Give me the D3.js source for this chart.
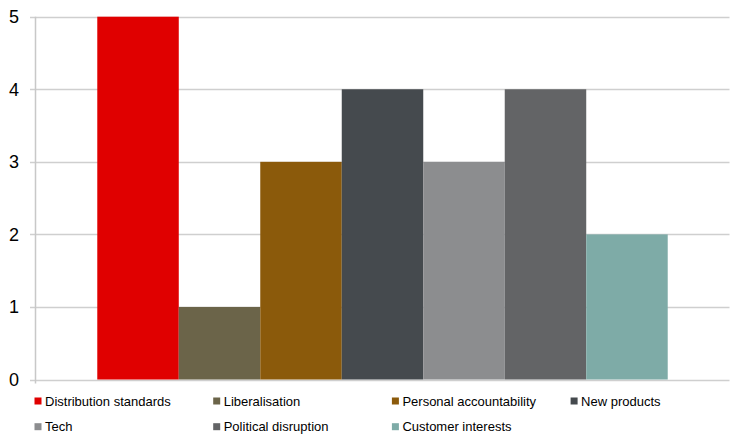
<!DOCTYPE html>
<html>
<head>
<meta charset="utf-8">
<script src="https://cdn.jsdelivr.net/npm/d3@7"></script>
<style>
  html, body { margin: 0; padding: 0; background: #fff; }
  svg { display: block; }
</style>
</head>
<body>
<svg id="chart" width="740" height="446"></svg>
<script>
const seriesNames = ["Distribution standards", "Liberalisation", "Personal accountability", "New products", "Tech", "Political disruption", "Customer interests"];
const seriesValues = [5, 1, 3, 4, 3, 4, 2];
const seriesColors = ["#e00000", "#6b6449", "#8b5a0b", "#454a4e", "#8c8d8f", "#636466", "#7eaba7"];
const yTicks = [0, 1, 2, 3, 4, 5];

const svg = d3.select("#chart");
const plotLeft = 35.5, plotRight = 729.5, plotTop = 16.7, plotBottom = 379.5;

const y = d3.scaleLinear().domain([0, 5]).range([plotBottom, plotTop]);
// single category band, with series bars inside
const xOuter = d3.scaleBand().domain(["all"]).range([plotLeft, plotRight]).paddingInner(0).paddingOuter(0.1083);
const xInner = d3.scaleBand().domain(seriesNames).range([0, xOuter.bandwidth()]).padding(0);

// gridlines
svg.append("g").selectAll("line").data(yTicks).join("line")
  .attr("x1", 30).attr("x2", plotRight)
  .attr("y1", d => Math.round(y(d)) + 0.5).attr("y2", d => Math.round(y(d)) + 0.5)
  .attr("stroke", "#cfcfcf").attr("stroke-width", 1.5);

// bars
svg.append("g").selectAll("rect").data(seriesNames).join("rect")
  .attr("x", (d) => xOuter("all") + xInner(d))
  .attr("width", xInner.bandwidth())
  .attr("y", (d, i) => y(seriesValues[i]))
  .attr("height", (d, i) => y(0) - y(seriesValues[i]))
  .attr("fill", (d, i) => seriesColors[i]);

// y axis line
svg.append("line").attr("x1", plotLeft).attr("x2", plotLeft).attr("y1", plotTop).attr("y2", plotBottom + 4)
  .attr("stroke", "#c8c8c8").attr("stroke-width", 1.5);

// y tick labels
svg.append("g").selectAll("text").data(yTicks).join("text")
  .attr("x", 19).attr("y", d => y(d)).attr("dy", "0.36em")
  .attr("text-anchor", "end")
  .attr("font-family", "Liberation Sans, Arial, sans-serif")
  .attr("font-size", 18).attr("fill", "#000")
  .text(d => d);

// legend
const legendCols = 4;
const colStep = 178.7, legendX0 = 34.5, rowY0 = 401, rowStep = 25.7;
const lg = svg.append("g").selectAll("g").data(seriesNames).join("g")
  .attr("transform", (d, i) => `translate(${legendX0 + (i % legendCols) * colStep},${rowY0 + Math.floor(i / legendCols) * rowStep})`);
lg.append("rect").attr("x", 0).attr("y", -3.5).attr("width", 7).attr("height", 7)
  .attr("fill", (d, i) => seriesColors[i]);
lg.append("text").attr("x", 10.5).attr("y", 0).attr("dy", "0.36em")
  .attr("font-family", "Liberation Sans, Arial, sans-serif")
  .attr("font-size", 13).attr("fill", "#000")
  .text(d => d);
</script>
</body>
</html>
